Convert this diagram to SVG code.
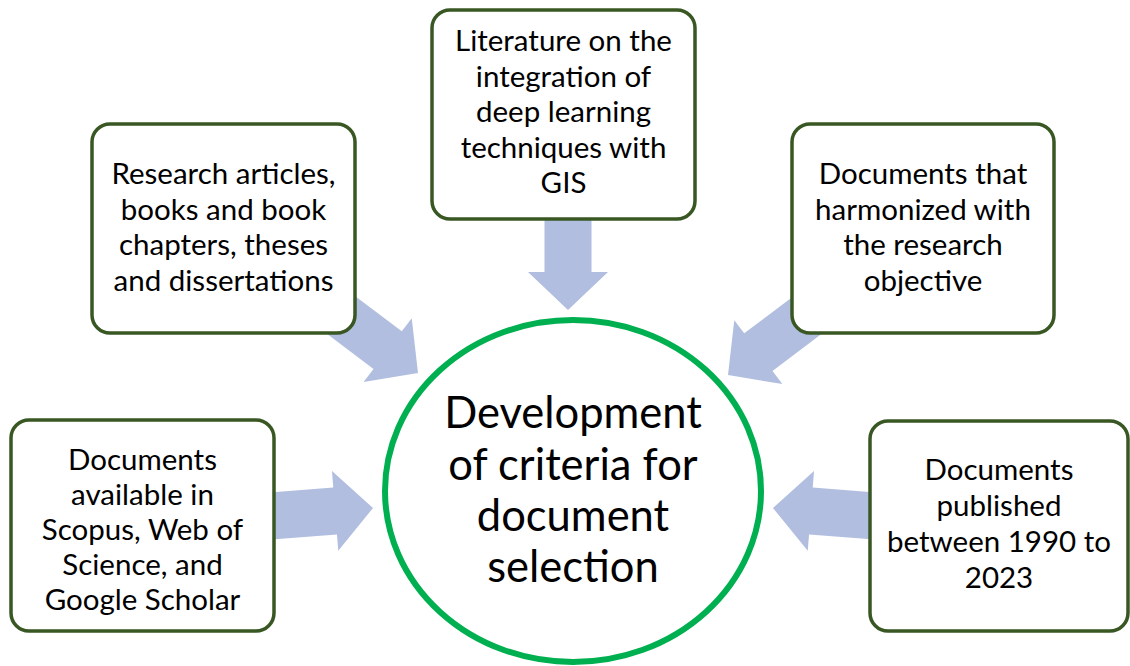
<svg xmlns="http://www.w3.org/2000/svg" width="1130" height="666" viewBox="0 0 1130 666">
<style>
.box{fill:#fff;stroke:#385723;stroke-width:3.5}
.t{font-family:Lato,"Liberation Sans",sans-serif;font-size:29.5px;fill:#000;text-anchor:middle}
.c{font-family:Lato,"Liberation Sans",sans-serif;font-size:43.5px;fill:#000;text-anchor:middle}
.arr{fill:#B1BEE0}
</style>
<defs>
<polygon id="ah" points="0,0 -38,-40 -38,-23.5 -120,-23.5 -120,23.5 -38,23.5 -38,40"/>
</defs>
<rect width="1130" height="666" fill="#fff"/>
<g id="connectors" class="arr">
<use href="#ah" transform="translate(568,310) rotate(90)"/>
<use href="#ah" transform="translate(418,373) rotate(37)"/>
<use href="#ah" transform="translate(728,375) rotate(143)"/>
<use href="#ah" transform="translate(373,508) rotate(-4.5)"/>
<use href="#ah" transform="translate(773,508) rotate(184.5)"/>
</g>
<g id="center">
<ellipse cx="573" cy="491" rx="188" ry="171" fill="#fff" stroke="#00B050" stroke-width="6"/>
<text class="c" x="573" y="428">Development</text>
<text class="c" x="573" y="480">of criteria for</text>
<text class="c" x="573" y="531">document</text>
<text class="c" x="573" y="582">selection</text>
</g>
<g id="top">
<rect class="box" x="432" y="10" width="263" height="209" rx="18"/>
<text class="t" x="563.5" y="51">Literature on the</text>
<text class="t" x="563.5" y="87">integration of</text>
<text class="t" x="563.5" y="122">deep learning</text>
<text class="t" x="563.5" y="158">techniques with</text>
<text class="t" x="563.5" y="193">GIS</text>
</g>
<g id="upper-left">
<rect class="box" x="92" y="124" width="263" height="209" rx="18"/>
<text class="t" x="223.5" y="184">Research articles,</text>
<text class="t" x="223.5" y="220">books and book</text>
<text class="t" x="223.5" y="255">chapters, theses</text>
<text class="t" x="223.5" y="291">and dissertations</text>
</g>
<g id="upper-right">
<rect class="box" x="792" y="124" width="262" height="209" rx="18"/>
<text class="t" x="923" y="184">Documents that</text>
<text class="t" x="923" y="220">harmonized with</text>
<text class="t" x="923" y="255">the research</text>
<text class="t" x="923" y="291">objective</text>
</g>
<g id="lower-left">
<rect class="box" x="11" y="420" width="263" height="211" rx="18"/>
<text class="t" x="142.5" y="470">Documents</text>
<text class="t" x="142.5" y="505">available in</text>
<text class="t" x="142.5" y="540">Scopus, Web of</text>
<text class="t" x="142.5" y="575">Science, and</text>
<text class="t" x="142.5" y="610">Google Scholar</text>
</g>
<g id="lower-right">
<rect class="box" x="870" y="421" width="258" height="210" rx="18"/>
<text class="t" x="999" y="480">Documents</text>
<text class="t" x="999" y="516">published</text>
<text class="t" x="999" y="552">between 1990 to</text>
<text class="t" x="999" y="588">2023</text>
</g>
</svg>
